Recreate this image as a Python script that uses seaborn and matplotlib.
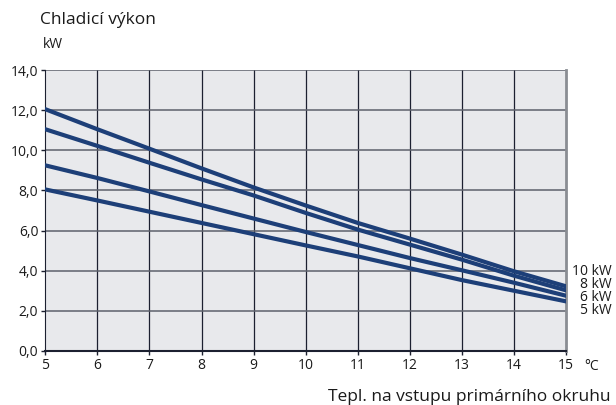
import matplotlib
matplotlib.use("Agg")
from matplotlib import pyplot as plt
import numpy as np
import pandas as pd
import seaborn as sns

# dati
teplota = [5, 6, 7, 8, 9, 10, 11, 12, 13, 14, 15]
vykon_10kw = [12.05, 11.05, 10.08, 9.1, 8.15, 7.25, 6.38, 5.6, 4.8, 3.97, 3.22]
vykon_8kw = [11.05, 10.22, 9.38, 8.55, 7.75, 6.88, 6.05, 5.3, 4.55, 3.75, 3.02]
vykon_6kw = [9.25, 8.62, 7.95, 7.27, 6.6, 5.93, 5.28, 4.63, 4.02, 3.4, 2.75]
vykon_5kw = [8.05, 7.5, 6.94, 6.38, 5.82, 5.26, 4.71, 4.12, 3.53, 3.0, 2.47]
modely = ["10 kW", "8 kW", "6 kW", "5 kW"]
y_ticks = [0, 2, 4, 6, 8, 10, 12, 14]

df = pd.DataFrame({
    "teplota": teplota * 4,
    "vykon": vykon_10kw + vykon_8kw + vykon_6kw + vykon_5kw,
    "model": np.repeat(modely, len(teplota)),
})

sns.set_style("ticks")
plt.rcParams["font.family"] = ["Open Sans", "DejaVu Sans"]

navy = "#1d3f78"
fig = plt.figure(figsize=(6.16, 4.05), dpi=100)
ax = fig.add_axes([0.0735, 0.1335, 0.8455, 0.6935])
ax.set_facecolor("#e8e9ec")

sns.lineplot(data=df, x="teplota", y="vykon", hue="model",
             palette=[navy] * 4, linewidth=3, legend=False, ax=ax, zorder=3)

ax.set_xlim(5, 15)
ax.set_ylim(0, 14)
ax.set_xticks(teplota)
ax.set_yticks(y_ticks)
ax.set_yticklabels([f"{v:.1f}".replace(".", ",") for v in y_ticks])
ax.tick_params(labelsize=10, length=3, width=1, color="#1c2030",
               labelcolor="#1a1a1a", pad=2)
ax.set_xlabel("")
ax.set_ylabel("")

# griglia
for xv in teplota[1:-1]:
    ax.axvline(xv, color="#1c2030", lw=0.9, zorder=1)
for yv in y_ticks[1:]:
    ax.axhline(yv, color="#5d616b", lw=1.1, zorder=1)

ax.spines["top"].set_visible(False)
ax.spines["right"].set_color("#8a8d93")
ax.spines["right"].set_linewidth(2)
ax.spines["left"].set_color("#1c2030")
ax.spines["bottom"].set_color("#1c2030")
ax.spines["bottom"].set_linewidth(1.5)

# etichette serie, un solo blocco di testo
fig.text(612 / 616, 1 - 291 / 405, "\n".join(modely), ha="right", va="center",
         multialignment="right", fontsize=10, color="#1a1a1a", linespacing=0.8)

fig.text(40 / 616, 1 - 20 / 405, "Chladicí výkon", ha="left", va="center",
         fontsize=12.5, color="#1a1a1a")
fig.text(43 / 616, 1 - 45 / 405, "kW", ha="left", va="center",
         fontsize=10, color="#1a1a1a")
fig.text(584 / 616, 1 - 366 / 405, "°C", ha="left", va="center",
         fontsize=10, color="#1a1a1a")
fig.text(611 / 616, 1 - 397 / 405, "Tepl. na vstupu primárního okruhu",
         ha="right", va="center", fontsize=12.5, color="#1a1a1a")

plt.savefig("out.png", dpi=100)
